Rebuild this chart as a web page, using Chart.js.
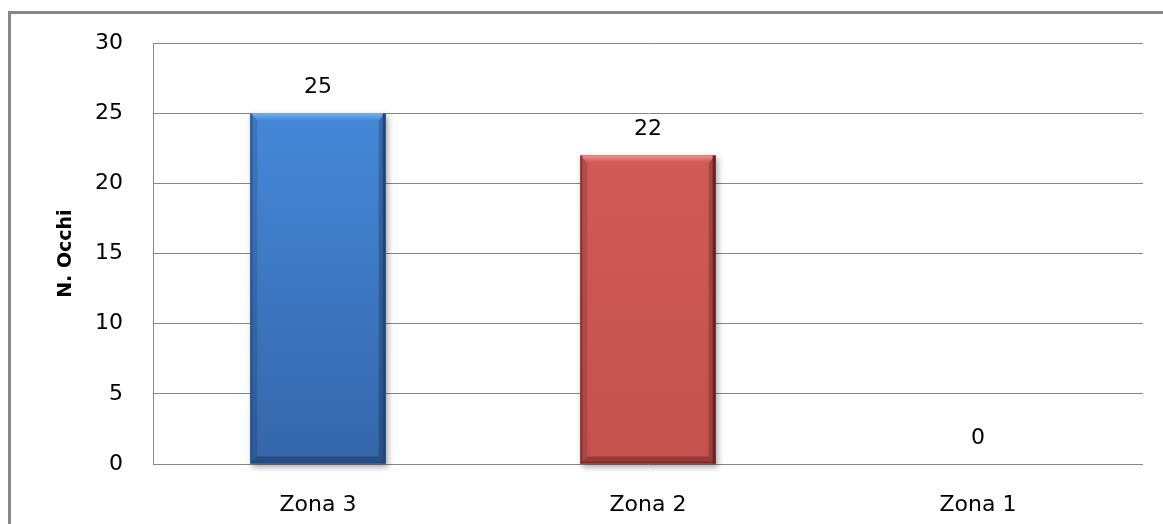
<!DOCTYPE html>
<html>
<head>
<meta charset="utf-8">
<script src="https://cdn.jsdelivr.net/npm/chart.js@4/dist/chart.umd.min.js"></script>
<style>
  html, body { margin: 0; padding: 0; background: #ffffff; overflow: hidden; }
  #wrap { position: relative; width: 1163px; height: 524px; }
</style>
</head>
<body>
<div id="wrap"><canvas id="c" width="1163" height="524"></canvas></div>
<script>
// Eyes counted per zone
const categories = ['Zona 3', 'Zona 2', 'Zona 1'];
const occhi = [25, 22, 0];
const yTicks = [0, 5, 10, 15, 20, 25, 30];
const axisTitle = 'N. Occhi';

// Per-bar colour tones: light top bevel, body top/bottom, dark edges
const barTones = [
  { light: '#74b0f2', top: '#4588d8', bottom: '#3566aa', edge: '#23477a' },
  { light: '#f2908b', top: '#d05a56', bottom: '#c4514d', edge: '#6c2222' },
  { light: '#c8e08c', top: '#9bbb59', bottom: '#86a44a', edge: '#556b2a' }
];

const FONT = 'DejaVu Sans';
const GRID = '#868686';

// Outer frame of the chart object
const framePlugin = {
  id: 'frame',
  beforeDraw(chart) {
    const ctx = chart.ctx;
    ctx.save();
    ctx.strokeStyle = '#878787';
    ctx.lineWidth = 3;
    ctx.beginPath();
    ctx.moveTo(9.5, chart.height + 5);
    ctx.lineTo(9.5, 12.5);
    ctx.lineTo(chart.width + 5, 12.5);
    ctx.stroke();
    ctx.restore();
  }
};

// Soft shadow under the bars, then bevelled faces on top of them
const bevelPlugin = {
  id: 'bevel',
  beforeDatasetsDraw(chart) {
    const ctx = chart.ctx;
    const meta = chart.getDatasetMeta(0);
    ctx.save();
    meta.data.forEach((bar) => {
      const h = bar.base - bar.y;
      if (h <= 0) return;
      const left = bar.x - bar.width / 2;
      ctx.shadowColor = 'rgba(0,0,0,0.35)';
      ctx.shadowBlur = 6;
      ctx.shadowOffsetX = 2;
      ctx.shadowOffsetY = 3;
      ctx.fillStyle = '#999';
      ctx.fillRect(left, bar.y, bar.width, h);
    });
    ctx.restore();
  },
  afterDatasetsDraw(chart) {
    const ctx = chart.ctx;
    const meta = chart.getDatasetMeta(0);
    ctx.save();
    meta.data.forEach((bar, i) => {
      const h = bar.base - bar.y;
      if (h <= 0) return;
      const t = barTones[i];
      const l = bar.x - bar.width / 2;
      const r = bar.x + bar.width / 2;
      const top = bar.y;
      const bot = bar.base;
      const b = 7;

      // body
      const body = ctx.createLinearGradient(0, top, 0, bot);
      body.addColorStop(0, t.top);
      body.addColorStop(1, t.bottom);
      ctx.fillStyle = body;
      ctx.fillRect(l, top, r - l, bot - top);

      // left bevel
      ctx.fillStyle = 'rgba(0,0,0,0.12)';
      ctx.beginPath();
      ctx.moveTo(l, top); ctx.lineTo(l + b, top + b);
      ctx.lineTo(l + b, bot - b); ctx.lineTo(l, bot);
      ctx.closePath(); ctx.fill();

      // right bevel
      ctx.fillStyle = 'rgba(0,0,0,0.22)';
      ctx.beginPath();
      ctx.moveTo(r, top); ctx.lineTo(r - b, top + b);
      ctx.lineTo(r - b, bot - b); ctx.lineTo(r, bot);
      ctx.closePath(); ctx.fill();

      // top bevel
      const tg = ctx.createLinearGradient(0, top, 0, top + b);
      tg.addColorStop(0, t.light);
      tg.addColorStop(1, t.top);
      ctx.fillStyle = tg;
      ctx.beginPath();
      ctx.moveTo(l, top); ctx.lineTo(r, top);
      ctx.lineTo(r - b, top + b); ctx.lineTo(l + b, top + b);
      ctx.closePath(); ctx.fill();

      // bottom bevel
      ctx.fillStyle = 'rgba(0,0,0,0.25)';
      ctx.beginPath();
      ctx.moveTo(l, bot); ctx.lineTo(r, bot);
      ctx.lineTo(r - b, bot - b); ctx.lineTo(l + b, bot - b);
      ctx.closePath(); ctx.fill();

      // dark outer edges
      ctx.fillStyle = t.edge;
      ctx.fillRect(r - 3, top, 3, bot - top);
      ctx.globalAlpha = 0.6;
      ctx.fillRect(l, top, 2, bot - top);
      ctx.fillRect(l, bot - 2, r - l, 2);
      ctx.globalAlpha = 1;
    });
    ctx.restore();
  }
};

// Value labels above each bar
const valueLabels = {
  id: 'valueLabels',
  afterDatasetsDraw(chart) {
    const ctx = chart.ctx;
    const meta = chart.getDatasetMeta(0);
    ctx.save();
    ctx.font = '22px "' + FONT + '"';
    ctx.fillStyle = '#000';
    ctx.textAlign = 'center';
    ctx.textBaseline = 'alphabetic';
    meta.data.forEach((bar, i) => {
      ctx.fillText(String(occhi[i]), bar.x, bar.y - 20);
    });
    ctx.restore();
  }
};

new Chart(document.getElementById('c'), {
  type: 'bar',
  data: {
    labels: categories,
    datasets: [{
      label: axisTitle,
      data: occhi,
      backgroundColor: barTones.map(t => t.top),
      borderWidth: 0,
      categoryPercentage: 1,
      barPercentage: 0.41
    }]
  },
  options: {
    responsive: false,
    animation: false,
    devicePixelRatio: 1,
    layout: { padding: { top: 42, right: 20, left: 0, bottom: 0 } },
    plugins: {
      legend: { display: false },
      tooltip: { enabled: false }
    },
    scales: {
      x: {
        grid: { display: false },
        border: { display: false },
        ticks: {
          color: '#000',
          padding: 20,
          font: { family: FONT, size: 22 }
        },
        afterFit(scale) { scale.height = 60; }
      },
      y: {
        min: yTicks[0],
        max: yTicks[yTicks.length - 1],
        afterBuildTicks(scale) { scale.ticks = yTicks.map(v => ({ value: v })); },
        grid: { color: GRID, lineWidth: 1, drawTicks: false },
        border: { display: true, color: GRID, width: 1 },
        ticks: {
          color: '#000',
          padding: 30,
          font: { family: FONT, size: 22 }
        },
        title: {
          display: true,
          text: axisTitle,
          color: '#000',
          font: { family: FONT, size: 19, weight: 'bold' },
          padding: { top: 55, bottom: 0 }
        },
        afterFit(scale) { scale.width = 153; }
      }
    }
  },
  plugins: [framePlugin, bevelPlugin, valueLabels]
});
</script>
</body>
</html>
